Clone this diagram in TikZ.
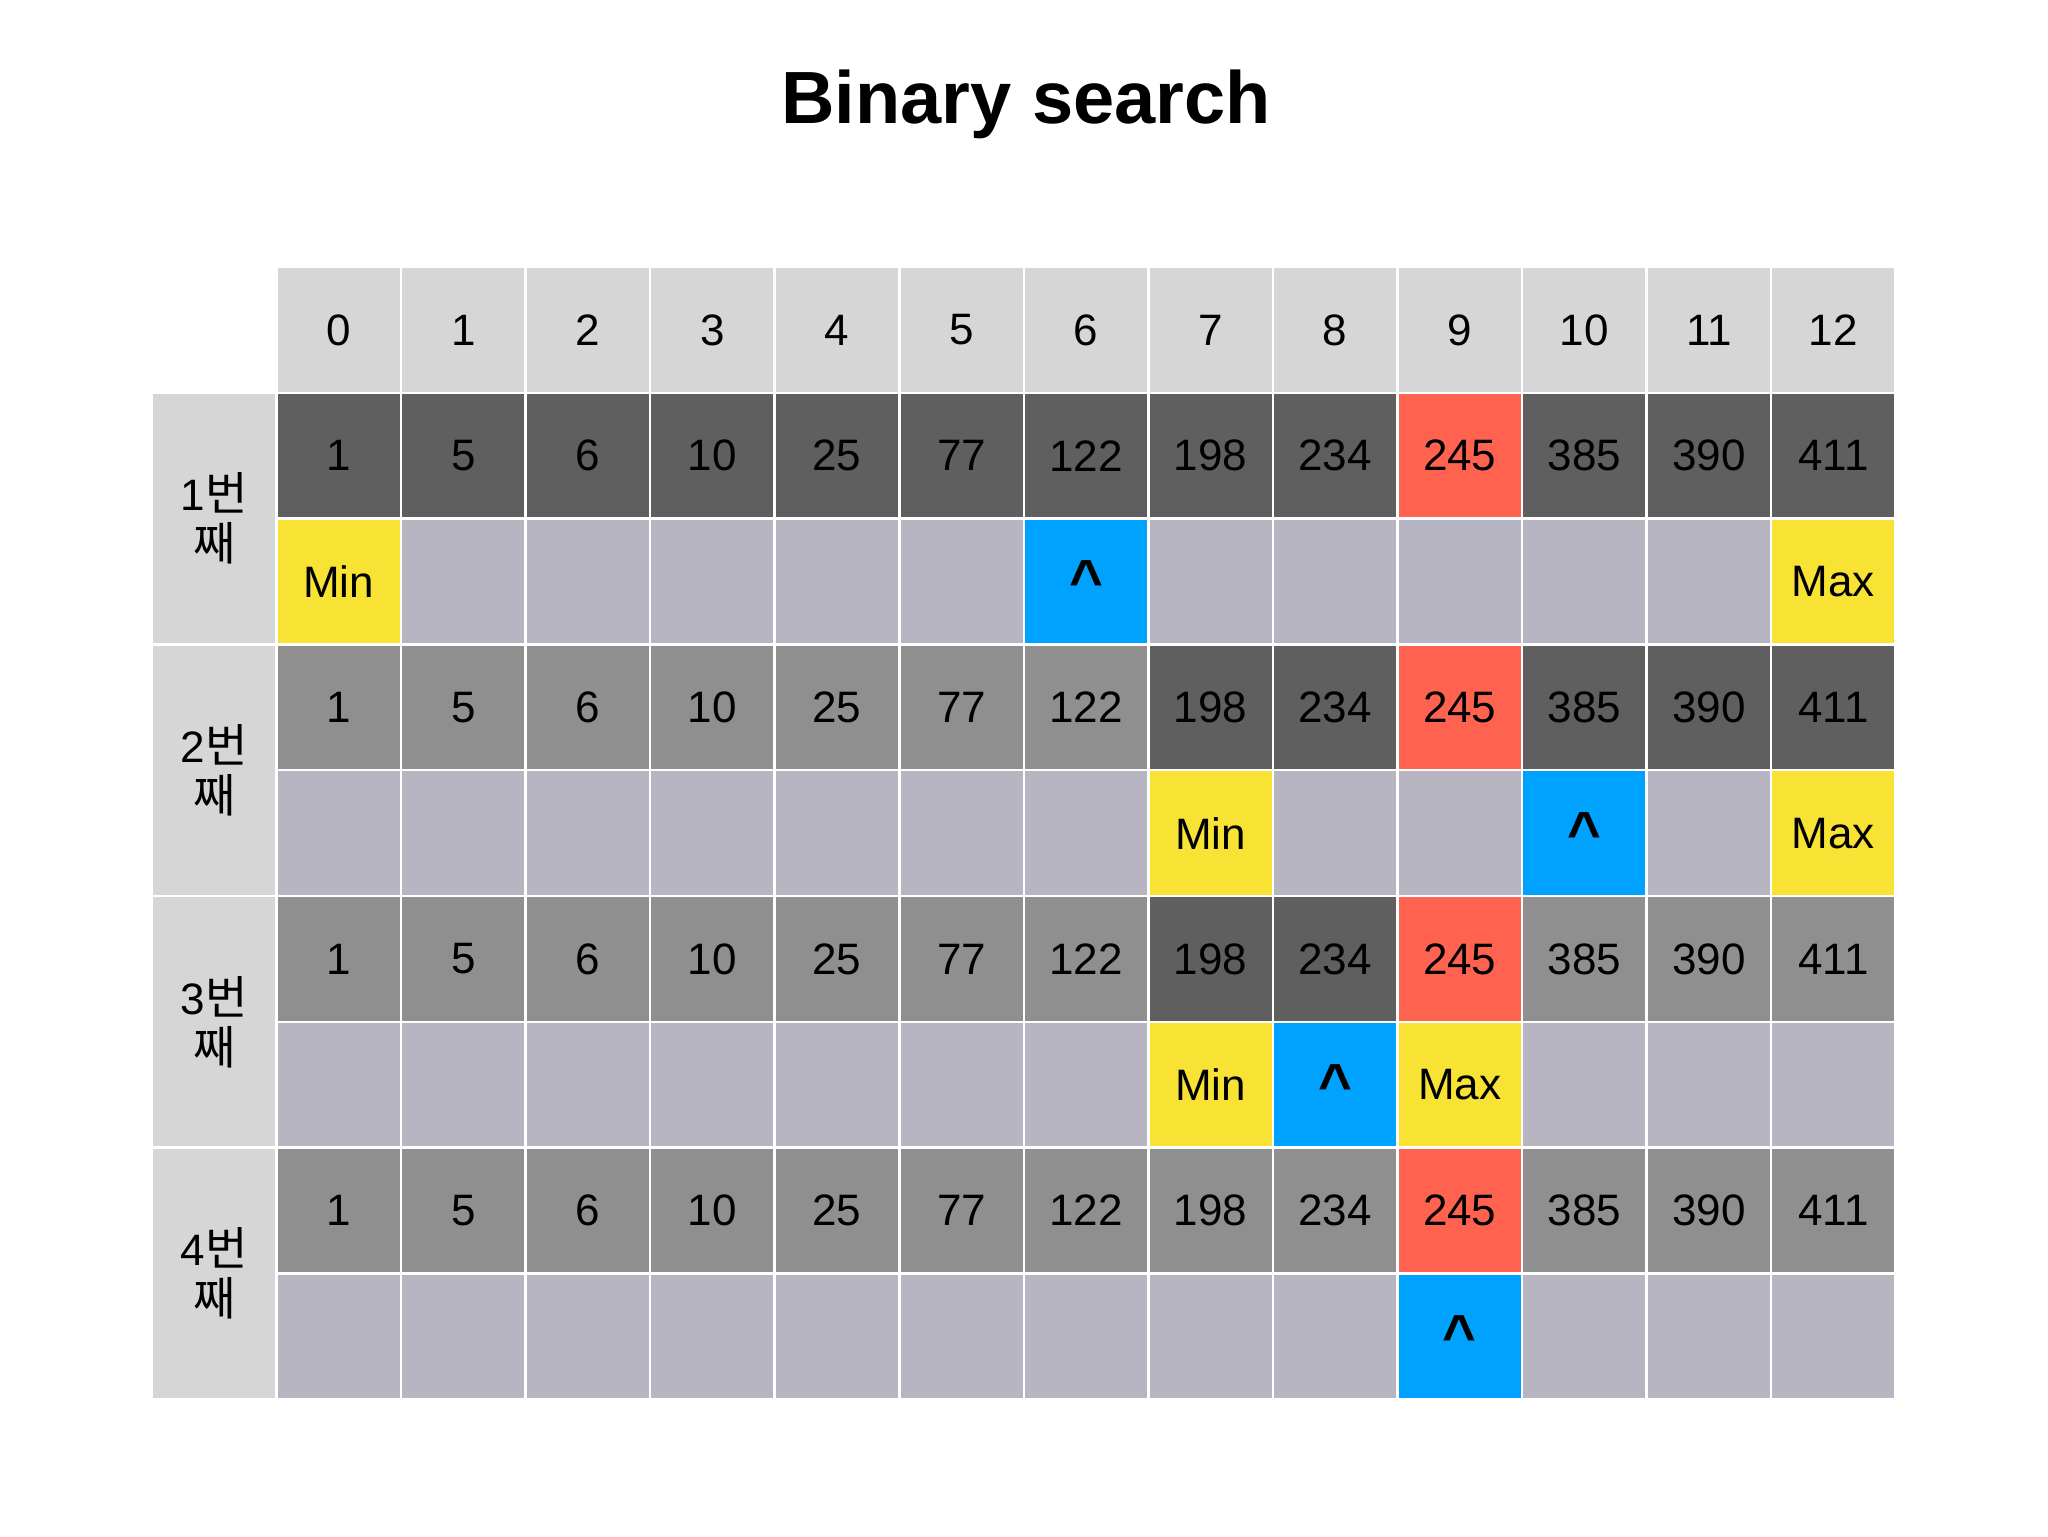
\documentclass[tikz,border=0pt]{standalone}
\usepackage{fontspec}
\setmainfont{Liberation Sans}
\newfontfamily\cjk{Noto Sans CJK KR}
\definecolor{hdr}{HTML}{D6D6D6}
\definecolor{vdark}{HTML}{5F5F5F}
\definecolor{vmid}{HTML}{8F8F8F}
\definecolor{vred}{HTML}{FF634F}
\definecolor{plav}{HTML}{B6B5C1}
\definecolor{pyel}{HTML}{F8E233}
\definecolor{pblue}{HTML}{00A2FF}
\begin{document}
\begin{tikzpicture}[x=0.5pt,y=-0.5pt,
  cellbox/.style={draw=white, line width=1.25pt, minimum width=62.28pt,
    minimum height=62.9pt, inner sep=0pt, font=\fontsize{22}{26}\selectfont},
  caret/.style={anchor=north, inner sep=0pt, font=\fontsize{29}{30}\selectfont\bfseries}]
\useasboundingbox[fill=white] (0,0) rectangle (2048,1536);
\node[font=\fontsize{37}{44}\selectfont\bfseries, anchor=base, inner sep=0pt] (title) at (1026,124) {Binary search};
% header
\foreach \c in {0,...,12}
  \node[cellbox, fill=hdr] (h\c) at ({276.5+(\c+0.5)*124.55}, 329.9) {\c};
% value rows
\foreach \r/\lo/\hi in {1/0/12, 2/7/12, 3/7/8, 4/99/99}{
  \foreach \v [count=\c from 0] in {1,5,6,10,25,77,122,198,234,245,385,390,411}{
    \ifnum\c=9 \def\fc{vred}\else
      \ifnum\c<\lo \def\fc{vmid}\else
        \ifnum\c>\hi \def\fc{vmid}\else \def\fc{vdark}\fi\fi\fi
    \node[cellbox, fill=\fc] (v\r-\c) at ({276.5+(\c+0.5)*124.55}, {267+(2*\r-0.5)*125.8}) {\v};
    \node[cellbox, fill=plav] (p\r-\c) at ({276.5+(\c+0.5)*124.55}, {267+(2*\r+0.5)*125.8}) {};
  }
  \node[cellbox, fill=hdr, minimum height=125.8pt, minimum width=62.25pt, align=center]
    (lab\r) at (214.25, {267+2*\r*125.8}) {\r{\cjk\fontsize{23}{26}\selectfont 번}\\[-1pt]{\cjk\fontsize{23}{26}\selectfont 째}};
}
% pointers
\tikzset{ptr/.style={cellbox, fill=pyel}, mid/.style={cellbox, fill=pblue}}
\node[ptr] (min1) at (p1-0) {Min};
\node[mid] (mid1) at (p1-6) {};
\node[caret] (car1) at ([yshift=10.5pt]mid1.center) {\textasciicircum};
\node[ptr] (max1) at (p1-12) {Max};
\node[ptr] (min2) at (p2-7) {Min};
\node[mid] (mid2) at (p2-10) {};
\node[caret] (car2) at ([yshift=10.5pt]mid2.center) {\textasciicircum};
\node[ptr] (max2) at (p2-12) {Max};
\node[ptr] (min3) at (p3-7) {Min};
\node[mid] (mid3) at (p3-8) {};
\node[caret] (car3) at ([yshift=10.5pt]mid3.center) {\textasciicircum};
\node[ptr] (max3) at (p3-9) {Max};
\node[mid] (mid4) at (p4-9) {};
\node[caret] (car4) at ([yshift=10.5pt]mid4.center) {\textasciicircum};
\end{tikzpicture}
\end{document}
